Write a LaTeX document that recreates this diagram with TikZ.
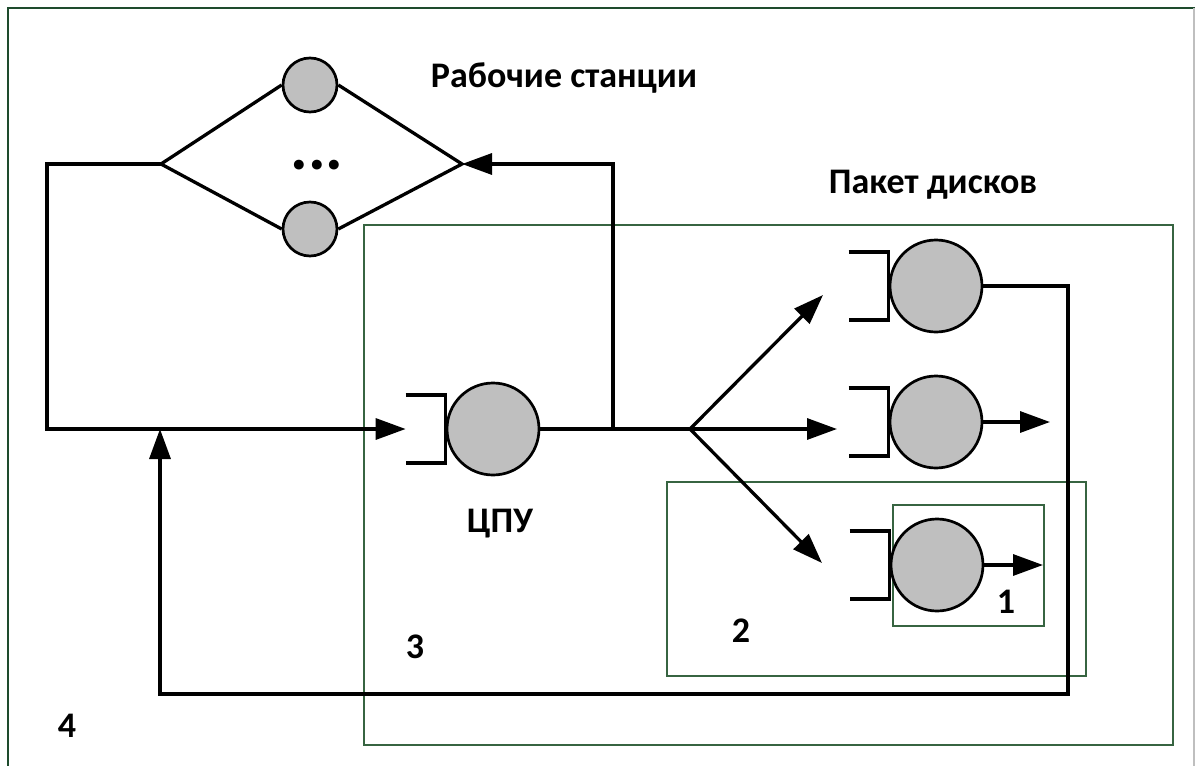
\documentclass[tikz,border=0pt]{standalone}
\usepackage{fontspec}
\setmainfont{Carlito}
\usetikzlibrary{arrows.meta,calc}
\definecolor{boxgreen}{RGB}{55,100,65}
\definecolor{framegreen}{RGB}{30,75,45}
\definecolor{srvgray}{RGB}{191,191,191}
\newcommand{\qbracket}[1]{\draw[queue] ($(#1.west)+(-40,-34)$) -- ($(#1.west)+(0,-34)$) -- ($(#1.west)+(0,34)$) -- ($(#1.west)+(-40,34)$);}
\begin{document}
\begin{tikzpicture}[x=1pt,y=-1pt,
  conn/.style={line width=3.3pt, line join=miter},
  arr/.style={conn,-{Triangle[length=30pt,width=21pt]}},
  srv/.style={circle, draw, line width=2.7pt, fill=srvgray, inner sep=0pt, minimum size=92pt},
  ws/.style={srv, minimum size=54pt},
  queue/.style={line width=3.3pt},
  grp/.style={draw=boxgreen, line width=1.7pt},
  lbl/.style={font=\bfseries\fontsize{36}{42}\selectfont, inner sep=0pt, anchor=base}
]
\useasboundingbox (0,0) rectangle (1195,766);
% outer frame
\draw[framegreen, line width=2.5pt] (8,766) -- (8,8) -- (1195,8);
\draw[black!25, line width=1.5pt] (1194,8) -- (1194,766);
% group boxes
\draw[grp] (364,225) rectangle (1173,745);
\draw[grp] (667,482) rectangle (1086,676);
\draw[grp] (893,505) rectangle (1044,626);
% servers
\node[ws] (ws1) at (310,85) {};
\node[ws] (ws2) at (310,229) {};
\node[srv] (cpu) at (493,429) {};
\node[srv] (d1) at (936,286) {};
\node[srv] (d2) at (936,422) {};
\node[srv] (d3) at (937,565) {};
\qbracket{cpu}
\qbracket{d1}
\qbracket{d2}
\qbracket{d3}
% coordinates
\coordinate (dl) at (161,164);
\coordinate (dr) at (462,164);
\coordinate (lc) at (47,429);
\coordinate (cpuin) at ($(cpu.west)+(-40,0)$);
\coordinate (j1) at (613,429);
\coordinate (br) at (690,429);
\coordinate (t1) at (823,295);
\coordinate (t2) at (837,429);
\coordinate (t3) at (822,563);
\coordinate (o2) at (1050,422);
\coordinate (o3) at (1043,565);
\coordinate (fb) at (1068,694);
\coordinate (fbin) at (160,429);
% connectors
\draw[conn] (ws1.west) -- (dl) -- (ws2.west);
\draw[conn] (ws1.east) -- (dr) -- (ws2.east);
\draw[arr] (dl) -| (lc) -- (cpuin);
\draw[conn] (cpu.east) -- (br);
\draw[arr] (j1) |- (dr);
\draw[arr] (br) -- (t1);
\draw[arr] (br) -- (t2);
\draw[arr] (br) -- (t3);
\draw[arr] (d2.east) -- (o2);
\draw[arr] (d3.east) -- (o3);
\draw[arr] (d1.east) -| (fb) -| (fbin);
% labels
\node[font=\bfseries\fontsize{66}{66}\selectfont, anchor=base, inner sep=0pt] (dots) at (317,169) {...};
\node[lbl] (lws) at (564,87) {Рабочие станции};
\node[lbl] (lpd) at (933,193) {Пакет дисков};
\node[lbl] (lcpu) at (500,532) {ЦПУ};
\node[lbl] (l1) at (1006,613) {1};
\node[lbl] (l2) at (741,642) {2};
\node[lbl] (l3) at (415,658) {3};
\node[lbl] (l4) at (67,737) {4};
\end{tikzpicture}
\end{document}
